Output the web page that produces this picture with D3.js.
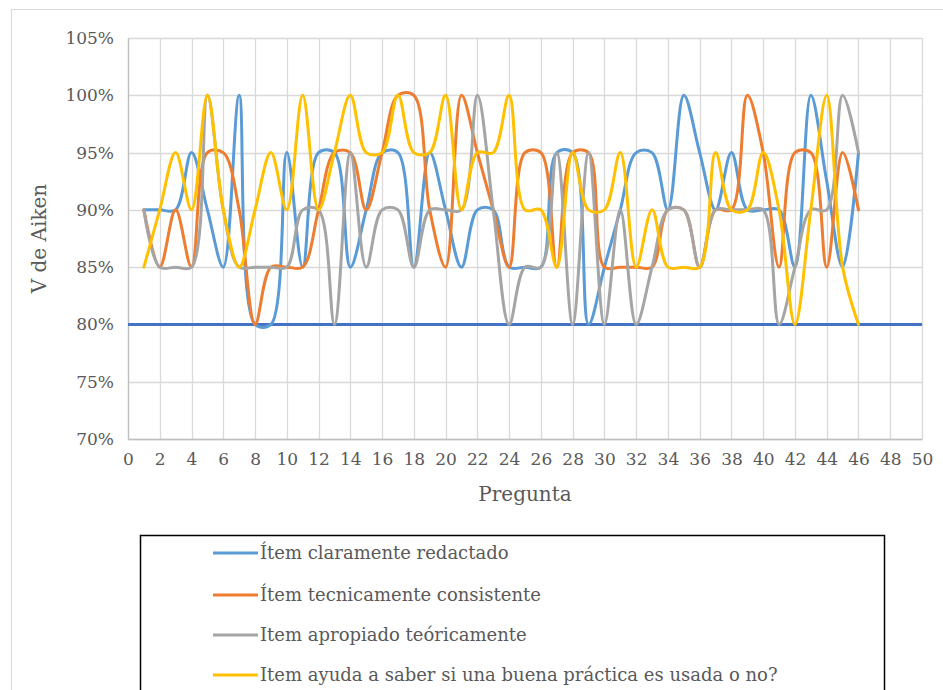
<!DOCTYPE html>
<html>
<head>
<meta charset="utf-8">
<script src="https://cdn.jsdelivr.net/npm/d3@7"></script>
<style>
  html, body { margin: 0; padding: 0; background: #ffffff; }
  svg { display: block; }
  text { font-family: "DejaVu Serif", "Liberation Serif", serif; fill: #595959; }
</style>
</head>
<body>
<svg id="chart" width="943" height="690"></svg>
<script>
// Question numbers (x axis)
const preguntas = d3.range(1, 47);

// V de Aiken per question, one array per criterion
const claramenteRedactado = [
  0.90, 0.90, 0.90, 0.95, 0.90, 0.85, 1.00, 0.80, 0.80, 0.95,
  0.85, 0.95, 0.95, 0.85, 0.90, 0.95, 0.95, 0.85, 0.95, 0.90,
  0.85, 0.90, 0.90, 0.85, 0.85, 0.85, 0.95, 0.95, 0.80, 0.85,
  0.90, 0.95, 0.95, 0.90, 1.00, 0.95, 0.90, 0.95, 0.90, 0.90,
  0.90, 0.85, 1.00, 0.925, 0.85, 0.95
];
const tecnicamenteConsistente = [
  0.90, 0.85, 0.90, 0.85, 0.95, 0.95, 0.90, 0.80, 0.85, 0.85,
  0.85, 0.90, 0.95, 0.95, 0.90, 0.95, 1.00, 1.00, 0.90, 0.85,
  1.00, 0.95, 0.90, 0.85, 0.95, 0.95, 0.85, 0.95, 0.95, 0.85,
  0.85, 0.85, 0.85, 0.90, 0.90, 0.85, 0.90, 0.90, 1.00, 0.95,
  0.85, 0.95, 0.95, 0.85, 0.95, 0.90
];
const apropiadoTeoricamente = [
  0.90, 0.85, 0.85, 0.85, 1.00, 0.90, 0.85, 0.85, 0.85, 0.85,
  0.90, 0.90, 0.80, 0.95, 0.85, 0.90, 0.90, 0.85, 0.90, 0.90,
  0.90, 1.00, 0.90, 0.80, 0.85, 0.85, 0.95, 0.80, 0.95, 0.80,
  0.90, 0.80, 0.85, 0.90, 0.90, 0.85, 0.90, 0.90, 0.90, 0.90,
  0.80, 0.85, 0.90, 0.90, 1.00, 0.95
];
const ayudaBuenaPractica = [
  0.85, 0.90, 0.95, 0.90, 1.00, 0.90, 0.85, 0.90, 0.95, 0.90,
  1.00, 0.90, 0.95, 1.00, 0.95, 0.95, 1.00, 0.95, 0.95, 1.00,
  0.90, 0.95, 0.95, 1.00, 0.90, 0.90, 0.85, 0.95, 0.90, 0.90,
  0.95, 0.85, 0.90, 0.85, 0.85, 0.85, 0.95, 0.90, 0.90, 0.95,
  0.90, 0.80, 0.90, 1.00, 0.85, 0.80
];

// Acceptance threshold
const umbral = 0.80;

const seriesNames = [
  "Ítem claramente redactado",
  "Ítem tecnicamente consistente",
  "Item apropiado teóricamente",
  "Item ayuda a saber si una buena práctica es usada o no?"
];
const seriesColors = ["#5B9BD5", "#ED7D31", "#A5A5A5", "#FFC000"];
const seriesValues = [claramenteRedactado, tecnicamenteConsistente, apropiadoTeoricamente, ayudaBuenaPractica];

const xTicks = d3.range(0, 51, 2);
const yTicks = [0.70, 0.75, 0.80, 0.85, 0.90, 0.95, 1.00, 1.05];

const svg = d3.select("#chart");

// Outer chart frame
svg.append("rect")
  .attr("x", 11.5).attr("y", 9.5)
  .attr("width", 940).attr("height", 700)
  .attr("fill", "none").attr("stroke", "#d9d9d9").attr("stroke-width", 1);

const plot = { left: 128, right: 922, top: 38, bottom: 439 };

const x = d3.scaleLinear().domain([0, 50]).range([plot.left, plot.right]);
const y = d3.scaleLinear().domain([0.70, 1.05]).range([plot.bottom, plot.top]);

// Gridlines
const grid = svg.append("g");
grid.selectAll("line.h").data(yTicks).join("line")
  .attr("x1", plot.left).attr("x2", plot.right)
  .attr("y1", d => Math.round(y(d)) + 0.5).attr("y2", d => Math.round(y(d)) + 0.5)
  .attr("stroke", "#d9d9d9").attr("stroke-width", 1.3);
grid.selectAll("line.v").data(xTicks).join("line")
  .attr("y1", plot.top).attr("y2", plot.bottom)
  .attr("x1", d => Math.round(x(d)) + 0.5).attr("x2", d => Math.round(x(d)) + 0.5)
  .attr("stroke", "#d9d9d9").attr("stroke-width", 1.3);

// Axes
const yAxis = d3.axisLeft(y).tickValues(yTicks).tickSize(0).tickPadding(14)
  .tickFormat(d => Math.round(d * 100) + "%");
const gy = svg.append("g").attr("transform", `translate(${plot.left},0)`).call(yAxis);
gy.select(".domain").attr("stroke", "#bfbfbf").attr("stroke-width", 1.3);
gy.selectAll("text").style("font-size", "17px").attr("fill", "#595959");

const xAxis = d3.axisBottom(x).tickValues(xTicks).tickSize(0).tickPadding(14);
const gx = svg.append("g").attr("transform", `translate(0,${plot.bottom})`).call(xAxis);
gx.select(".domain").attr("stroke", "#bfbfbf").attr("stroke-width", 1.3);
gx.selectAll("text").style("font-size", "17px").attr("fill", "#595959");

// Axis titles
svg.append("text")
  .attr("x", (plot.left + plot.right) / 2).attr("y", 501)
  .attr("text-anchor", "middle").style("font-size", "20px")
  .text("Pregunta");
svg.append("text")
  .attr("transform", `translate(46,${(plot.top + plot.bottom) / 2}) rotate(-90)`)
  .attr("text-anchor", "middle").style("font-size", "20px")
  .text("V de Aiken");

// Threshold line
svg.append("line")
  .attr("x1", x(0)).attr("x2", x(50))
  .attr("y1", y(umbral)).attr("y2", y(umbral))
  .attr("stroke", "#4472C4").attr("stroke-width", 3);

// Smoothed series (centripetal spline keeps short flat runs tight)
const line = d3.line()
  .x((d, i) => x(preguntas[i]))
  .y(d => y(d))
  .curve(d3.curveCatmullRom.alpha(0.5));

svg.append("g").selectAll("path").data(seriesValues).join("path")
  .attr("d", d => line(d))
  .attr("fill", "none")
  .attr("stroke", (d, i) => seriesColors[i])
  .attr("stroke-width", 3)
  .attr("stroke-linejoin", "round")
  .attr("stroke-linecap", "round");

// Legend
const legend = svg.append("g");
legend.append("rect")
  .attr("x", 140.5).attr("y", 535.5)
  .attr("width", 744).attr("height", 170)
  .attr("fill", "#ffffff").attr("stroke", "#000000").attr("stroke-width", 1.5);

const rowY = [553, 595, 635, 675];
const items = legend.selectAll("g.item").data(seriesNames).join("g")
  .attr("transform", (d, i) => `translate(0,${rowY[i]})`);
items.append("line")
  .attr("x1", 213).attr("x2", 258).attr("y1", 0).attr("y2", 0)
  .attr("stroke", (d, i) => seriesColors[i]).attr("stroke-width", 3);
items.append("text")
  .attr("x", 260).attr("y", 0).attr("dy", "0.35em")
  .style("font-size", "18px")
  .text(d => d);
</script>
</body>
</html>
